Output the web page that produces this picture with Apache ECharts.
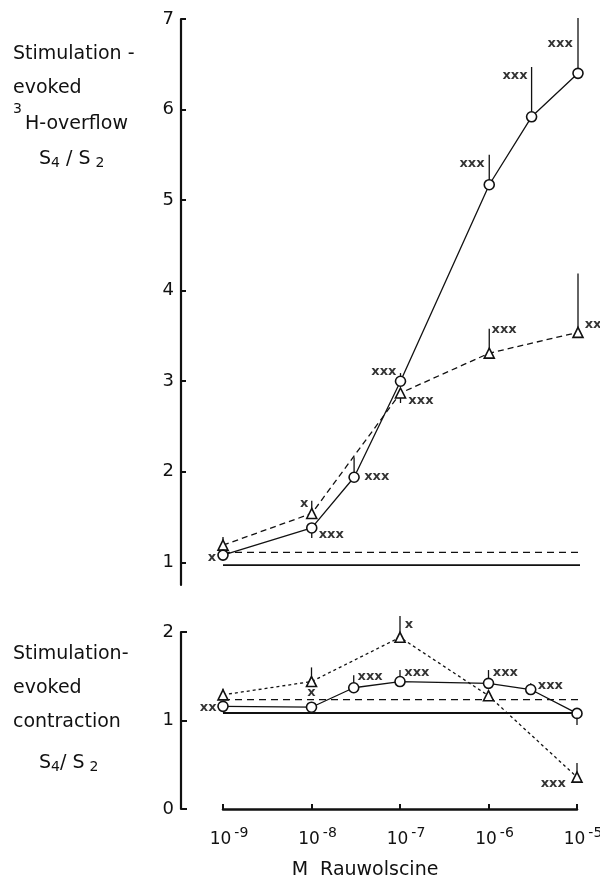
<!DOCTYPE html>
<html><head><meta charset="utf-8">
<script src="https://cdn.jsdelivr.net/npm/echarts@6/dist/echarts.min.js"></script>
<style>html,body{margin:0;padding:0;background:#fff}#c{width:600px;height:879px}</style>
</head><body><div id="c"></div>
<script>
// Concentrations (M Rauwolscine)
const conc7 = [1e-9, 1e-8, 3e-8, 1e-7, 1e-6, 3e-6, 1e-5];
const conc5 = [1e-9, 1e-8, 1e-7, 1e-6, 1e-5];

// Upper panel: stimulation-evoked 3H-overflow S4/S2
const overflowCircle    = [1.08, 1.38, 1.94, 3.00, 5.17, 5.92, 6.40];
const overflowCircleErr = [1.02, 1.27, 2.16, 3.09, 5.50, 6.47, 7.01];
const overflowTri       = [1.19, 1.54, 2.87, 3.31, 3.54];
const overflowTriErr    = [1.28, 1.68, 2.76, 3.58, 4.19];
const overflowCtrlSolid  = 0.97;
const overflowCtrlDashed = 1.11;

// Lower panel: stimulation-evoked contraction S4/S2
const contrCircle    = [1.16, 1.15, 1.37, 1.44, 1.42, 1.35, 1.08];
const contrCircleErr = [1.20, 1.15, 1.51, 1.57, 1.57, 1.42, 0.95];
const contrTri       = [1.29, 1.44, 1.94, 1.28, 0.36];
const contrTriErr    = [1.36, 1.60, 2.18, 1.31, 0.52];
const contrCtrlSolid  = 1.085;
const contrCtrlDashed = 1.235;

const ctrlRange = [1e-9, 1.12e-5];
const overflowTicks = [1, 2, 3, 4, 5, 6, 7];
const contrTicks = [0, 1, 2];

// significance marks [concentration, value, text]
const overflowMarks = [
  [7.5e-10, 1.055, 'x'], [8.2e-9, 1.65, 'x'], [1.66e-8, 1.31, 'xxx'],
  [5.4e-8, 1.95, 'xxx'], [6.5e-8, 3.11, 'xxx'], [1.7e-7, 2.79, 'xxx'],
  [6.4e-7, 5.40, 'xxx'], [1.95e-6, 6.37, 'xxx'], [6.3e-6, 6.73, 'xxx'],
  [1.47e-6, 3.57, 'xxx'], [1.48e-5, 3.62, 'xx']
];
const contrMarks = [
  [6.8e-10, 1.15, 'xx'], [1e-8, 1.31, 'x'], [4.6e-8, 1.50, 'xxx'],
  [1.55e-7, 1.54, 'xxx'], [1.26e-7, 2.08, 'x'], [1.55e-6, 1.54, 'xxx'],
  [5.0e-6, 1.39, 'xxx'], [5.4e-6, 0.29, 'xxx']
];

const INK = '#111';
const FONT = 'DejaVu Sans';
const TSIZE = 19;

function zip(xs, ys) { return xs.map((x, i) => [x, ys[i]]); }
function errData(xs, ys, es) { return xs.map((x, i) => [x, ys[i], es[i]]); }

function errSeries(idx, data) {
  return {
    type: 'custom', xAxisIndex: idx, yAxisIndex: idx, z: 1, clip: false,
    data: data, encode: { x: 0, y: [1, 2] },
    renderItem: function (params, api) {
      const a = api.coord([api.value(0), api.value(1)]);
      const b = api.coord([api.value(0), api.value(2)]);
      return { type: 'line', shape: { x1: a[0], y1: a[1], x2: b[0], y2: b[1] },
               style: { stroke: INK, lineWidth: 1.3 } };
    }
  };
}
function lineSeries(idx, data, symbol, dash, width) {
  return {
    type: 'line', xAxisIndex: idx, yAxisIndex: idx, data: data, z: 3,
    symbol: symbol, symbolSize: 10, showSymbol: symbol !== 'none',
    itemStyle: { color: '#fff', borderColor: INK, borderWidth: 1.6 },
    lineStyle: { color: INK, width: width || 1.3, type: dash || 'solid' },
    clip: false, silent: true, animation: false
  };
}
function ctrlSeries(idx, v, dash) {
  return lineSeries(idx, ctrlRange.map(x => [x, v]), 'none', dash, dash === 'solid' ? 1.8 : 1.3);
}
function markSeries(idx, marks) {
  return {
    type: 'scatter', xAxisIndex: idx, yAxisIndex: idx, z: 5, clip: false,
    symbol: 'circle', symbolSize: 0.1, itemStyle: { color: 'transparent' },
    data: marks,
    label: { show: true, position: 'inside', formatter: p => p.value[2],
             fontFamily: FONT, fontSize: 13, fontWeight: 'bold', color: '#000' },
    silent: true, animation: false
  };
}
function txt(x, y, s, size) {
  return { type: 'text', x: x, y: y, style: { text: s, fontFamily: FONT, fontSize: size || TSIZE, fill: INK, verticalAlign: 'middle' } };
}
function ratioText(x, y, sep) {
  return { type: 'text', x: x, y: y, style: { text: '{b|S}{u|4}{b|' + sep + 'S}{v|2}', verticalAlign: 'middle', fill: INK,
    rich: { b: { fontFamily: FONT, fontSize: TSIZE, lineHeight: 20, padding: [0, 0, 6, 0], verticalAlign: 'top', fill: INK },
            u: { fontFamily: FONT, fontSize: 14, lineHeight: 14, verticalAlign: 'bottom', fill: INK },
            v: { fontFamily: FONT, fontSize: 14, lineHeight: 14, padding: [0, 0, 0, 5], verticalAlign: 'bottom', fill: INK } } } };
}

const xAxisBase = { type: 'log', logBase: 10, min: 1e-9, max: 1e-5, splitLine: { show: false } };

const option = {
  animation: false,
  backgroundColor: '#fff',
  grid: [
    { left: 223, right: 22, top: 19, height: 566, outerBoundsMode: 'none', containLabel: false },
    { left: 223, right: 23, top: 632, height: 177, outerBoundsMode: 'none', containLabel: false }
  ],
  xAxis: [
    Object.assign({ gridIndex: 0, show: false }, xAxisBase),
    Object.assign({ gridIndex: 1,
      axisLine: { show: true, lineStyle: { color: INK, width: 2.5 } },
      axisTick: { show: true, inside: true, length: 5, lineStyle: { color: INK, width: 2 } },
      axisLabel: {
        margin: 17, color: INK, padding: [0, 0, 0, 12],
        formatter: v => '{b|10}{s|' + Math.round(Math.log10(v)) + '}',
        rich: {
          b: { fontFamily: FONT, fontSize: 17, lineHeight: 17, padding: [5, 0, 0, 0], verticalAlign: 'top', color: INK },
          s: { fontFamily: FONT, fontSize: 14, lineHeight: 14, padding: [0, 0, 0, 3], verticalAlign: 'top', color: INK }
        }
      },
      name: 'M  Rauwolscine', nameLocation: 'middle', nameGap: 52,
      nameTextStyle: { fontFamily: FONT, fontSize: 19, color: INK, padding: [0, 70, 0, 0] }
    }, xAxisBase)
  ],
  yAxis: [
    { type: 'value', gridIndex: 0, min: 0.75, max: 7, offset: 42,
      splitLine: { show: false },
      axisLine: { show: true, lineStyle: { color: INK, width: 2.2 } },
      axisTick: { show: true, inside: true, length: 5, customValues: overflowTicks, lineStyle: { color: INK, width: 2 } },
      axisLabel: { customValues: overflowTicks, margin: 7, fontFamily: FONT, fontSize: 18, color: INK } },
    { type: 'value', gridIndex: 1, min: 0, max: 2, interval: 1, offset: 42,
      splitLine: { show: false },
      axisLine: { show: true, lineStyle: { color: INK, width: 2.2 } },
      axisTick: { show: true, inside: true, length: 6, customValues: contrTicks, lineStyle: { color: INK, width: 2 } },
      axisLabel: { customValues: contrTicks, margin: 7, fontFamily: FONT, fontSize: 18, color: INK } }
  ],
  graphic: [
    txt(13, 54, 'Stimulation -'),
    txt(13, 88, 'evoked'),
    txt(13, 109, '3', 14),
    txt(25, 124, 'H-overflow'),
    ratioText(39, 160, ' / '),
    txt(13, 654, 'Stimulation-'),
    txt(13, 688, 'evoked'),
    txt(13, 722, 'contraction'),
    ratioText(39, 764, '/ ')
  ],
  series: [
    ctrlSeries(0, overflowCtrlSolid, 'solid'),
    ctrlSeries(0, overflowCtrlDashed, [7, 5]),
    errSeries(0, errData(conc7, overflowCircle, overflowCircleErr)),
    errSeries(0, errData(conc5, overflowTri, overflowTriErr)),
    lineSeries(0, zip(conc5, overflowTri), 'triangle', [6, 4]),
    lineSeries(0, zip(conc7, overflowCircle), 'circle', 'solid'),
    markSeries(0, overflowMarks),

    ctrlSeries(1, contrCtrlSolid, 'solid'),
    ctrlSeries(1, contrCtrlDashed, [7, 5]),
    errSeries(1, errData(conc7, contrCircle, contrCircleErr)),
    errSeries(1, errData(conc5, contrTri, contrTriErr)),
    lineSeries(1, zip(conc5, contrTri), 'triangle', [3, 3]),
    lineSeries(1, zip(conc7, contrCircle), 'circle', 'solid'),
    markSeries(1, contrMarks)
  ]
};

const chart = echarts.init(document.getElementById('c'), null, { renderer: 'canvas' });
chart.setOption(option);
</script>
</body></html>
